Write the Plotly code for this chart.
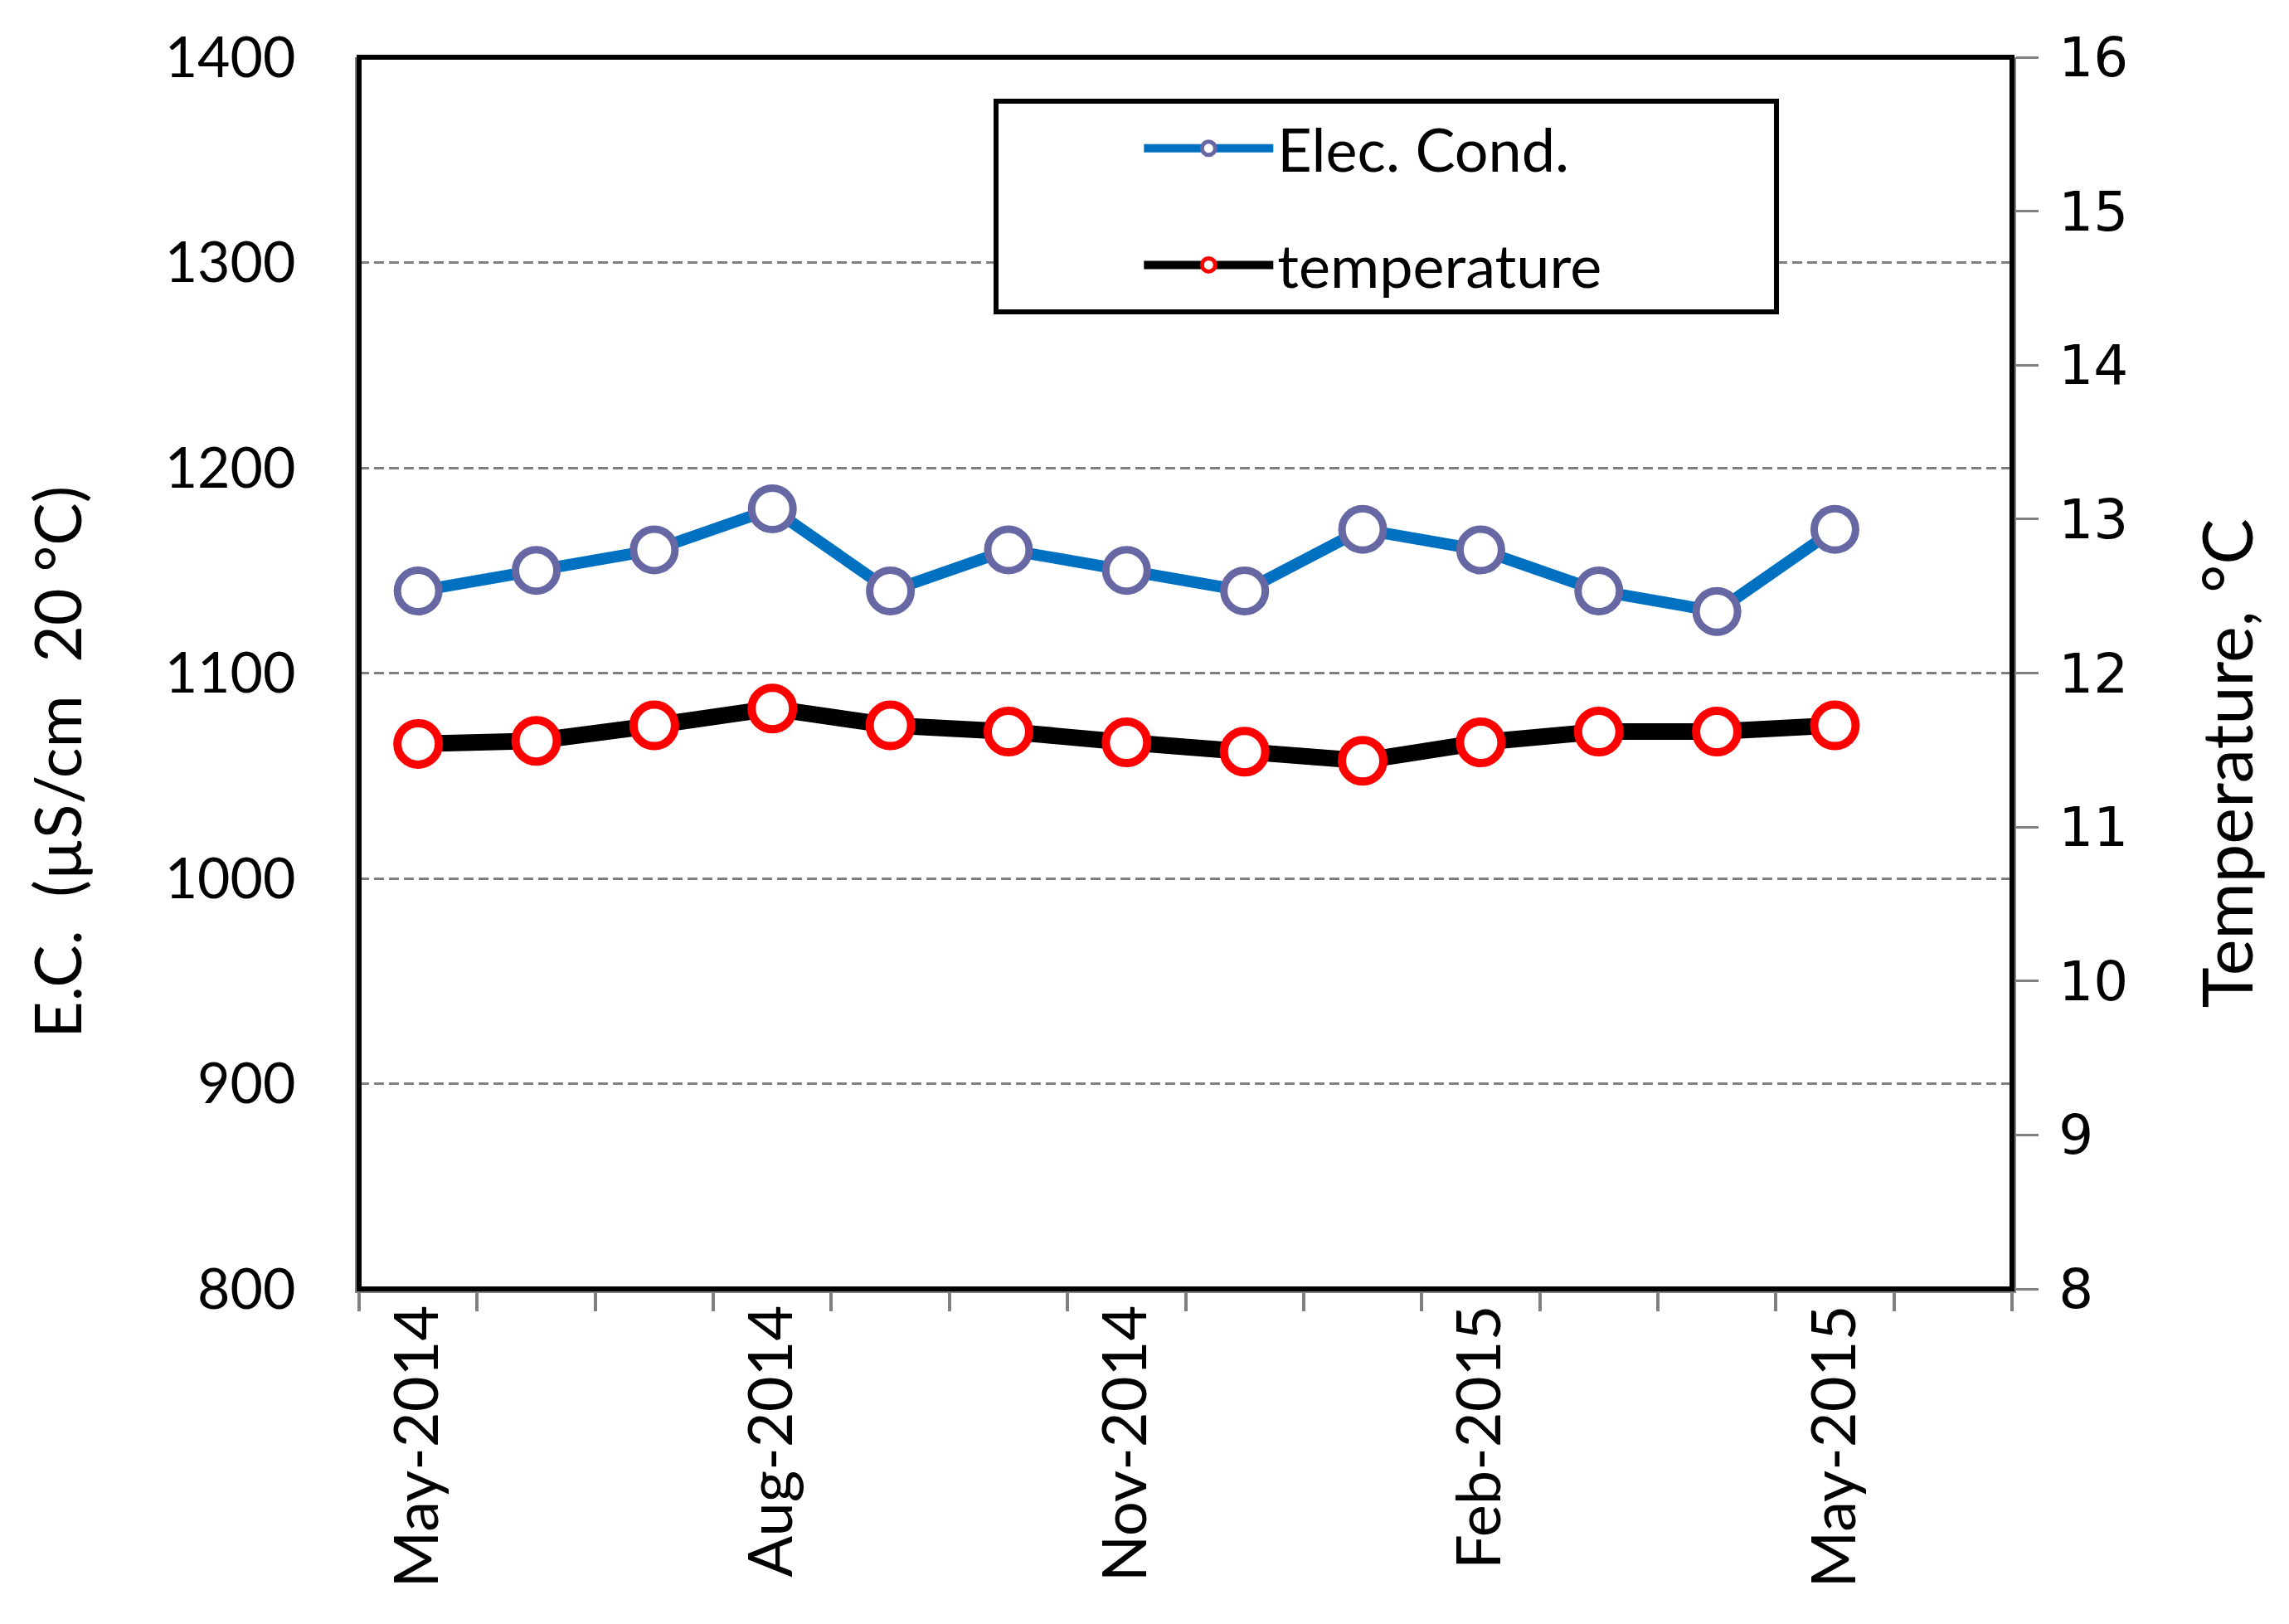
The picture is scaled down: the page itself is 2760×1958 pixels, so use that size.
import plotly.graph_objects as go

# monthly samples, May-2014 .. May-2015
months = ["May-2014", "Jun-2014", "Jul-2014", "Aug-2014", "Sep-2014", "Oct-2014",
          "Nov-2014", "Dec-2014", "Jan-2015", "Feb-2015", "Mar-2015", "Apr-2015",
          "May-2015"]
ec = [1140, 1150, 1160, 1180, 1140, 1160, 1150, 1140, 1170, 1160, 1140, 1130, 1170]
temperature = [11.54, 11.56, 11.66, 11.77, 11.66, 11.62, 11.55, 11.49, 11.43,
               11.55, 11.62, 11.62, 11.66]

x_idx = list(range(len(months)))
label_idx = x_idx[::3]
label_txt = months[::3]

FONT = "Lato"
GRAY = "#808080"
PAD = "\u00a0" * 11  # widens the legend box like the original

fig = go.Figure()

fig.add_trace(go.Scatter(
    x=x_idx, y=ec, name="Elec. Cond." + PAD, mode="lines+markers",
    line=dict(color="#0070C0", width=14),
    marker=dict(symbol="circle", size=50, color="white",
                line=dict(color="#6767A3", width=9)),
    legendgroup="a",
))
fig.add_trace(go.Scatter(
    x=x_idx, y=temperature, name="temperature" + PAD, mode="lines+markers",
    yaxis="y2",
    line=dict(color="black", width=20),
    marker=dict(symbol="circle", size=50, color="white",
                line=dict(color="#FF0000", width=10)),
    legendgroup="b",
))

fig.update_layout(
    width=2760, height=1958,
    margin=dict(l=425, r=342, t=61, b=412),
    paper_bgcolor="white", plot_bgcolor="white",
    font=dict(family=FONT, size=68, color="black"),
    showlegend=True,
    legend=dict(
        x=0.384, y=0.966, xanchor="left", yanchor="top",
        bgcolor="white", bordercolor="black", borderwidth=6,
        font=dict(size=72), itemwidth=156, itemsizing="trace",
        indentation=170,
        tracegroupgap=44, traceorder="grouped",
    ),
    xaxis=dict(
        range=[-0.5, 13.5], tickmode="array", tickvals=label_idx,
        ticktext=label_txt, tickangle=-90, ticks="", ticklabelstandoff=-15,
        tickfont=dict(size=74),
        showgrid=False, zeroline=False,
        showline=True, linecolor=GRAY, linewidth=5,
        minor=dict(tickmode="linear", tick0=-0.5, dtick=1, ticks="outside",
                   ticklen=22, tickwidth=4, tickcolor=GRAY, showgrid=False),
    ),
    yaxis=dict(
        range=[800, 1400], dtick=100, ticks="", ticklabelstandoff=58,
        showgrid=True, gridcolor=GRAY, gridwidth=3, griddash="12px,6px",
        zeroline=False, showline=True, linecolor=GRAY, linewidth=5,
    ),
    yaxis2=dict(
        range=[8, 16], dtick=1, overlaying="y", side="right",
        ticks="outside", ticklen=27, tickwidth=3, tickcolor=GRAY,
        ticklabelstandoff=11, tickfont=dict(family="DejaVu Sans", size=66),
        showgrid=False, zeroline=False, showline=True,
        linecolor=GRAY, linewidth=5,
    ),
    shapes=[dict(type="rect", xref="x domain", yref="y domain",
                 x0=0, x1=1, y0=0, y1=1, line=dict(color="black", width=6),
                 layer="above")],
    annotations=[
        dict(text="E.C.\u00a0\u00a0(µS/cm\u00a0\u00a020\u00a0°C)", textangle=-90,
             xref="paper", yref="paper", x=-0.183, y=0.428,
             xanchor="center", yanchor="middle", showarrow=False,
             font=dict(size=77)),
        dict(text="Temperature,\u00a0°C", textangle=-90,
             xref="paper", yref="paper", x=1.1295, y=0.4269,
             xanchor="center", yanchor="middle", showarrow=False,
             font=dict(size=83)),
    ],
)

fig.write_html("out.html")
